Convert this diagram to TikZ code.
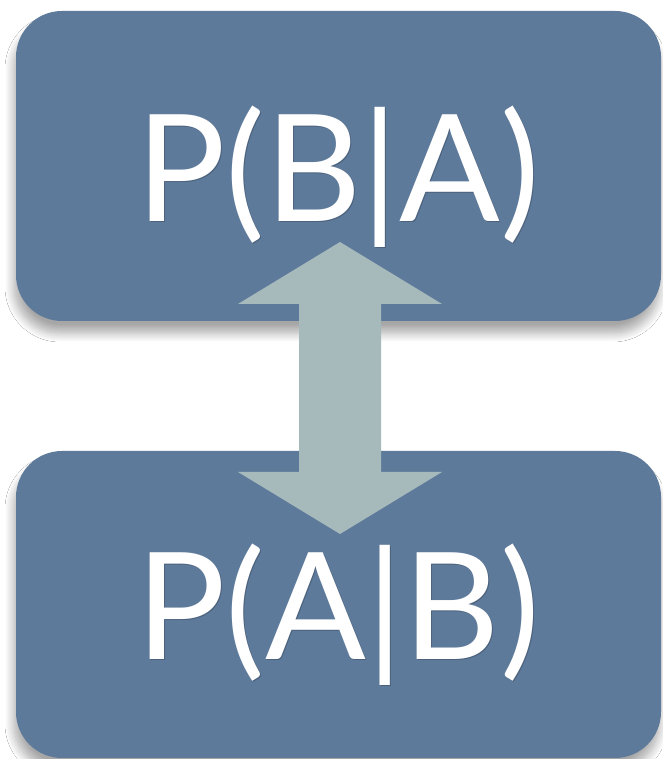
\documentclass[tikz,border=0pt]{standalone}
\usepackage{fontspec}
\setmainfont{Lato}
\usetikzlibrary{shadows.blur}
\definecolor{boxblue}{RGB}{94,122,155}
\definecolor{arrowgray}{RGB}{166,186,187}
\tikzset{
  probbox/.style={rectangle, rounded corners=46pt, fill=boxblue, draw=none,
    minimum width=645pt, inner sep=0pt,
    blur shadow={shadow xshift=-2pt, shadow yshift=-12pt, shadow blur radius=9pt, shadow opacity=35, shadow blur steps=12}},
  problabel/.style={text=white, anchor=base, inner sep=0pt,
    font=\fontsize{149}{150}\selectfont},
  labelshadow/.style={text=black, text opacity=0.2, anchor=base, inner sep=0pt,
    font=\fontsize{149}{150}\selectfont},
  bigarrow/.style={fill=arrowgray, draw=none}
}
\begin{document}
\begin{tikzpicture}[x=1pt,y=1pt]
  \useasboundingbox[fill=white] (0,0) rectangle (662,759);
  % boxes
  \node[probbox, minimum height=310pt] (top) at (338.5,593) {};
  \node[probbox, minimum height=307pt] (bottom) at (338.5,154.5) {};
  % labels
  \node[labelshadow] (tsh) at (339,536) {P(B|A)};
  \node[problabel] (ttop) at (338,537) {P(B|A)};
  \node[labelshadow] (bsh) at (339,98) {P(A|B)};
  \node[problabel] (tbot) at (338,99) {P(A|B)};
  % double arrow
  \coordinate (tiptop) at (340,517);
  \coordinate (tipbot) at (340,225);
  \fill[bigarrow] (tiptop) -- (442,455) -- (381,455) -- (381,287) -- (442,287)
    -- (tipbot) -- (238,287) -- (299,287) -- (299,455) -- (238,455) -- cycle;
\end{tikzpicture}
\end{document}
